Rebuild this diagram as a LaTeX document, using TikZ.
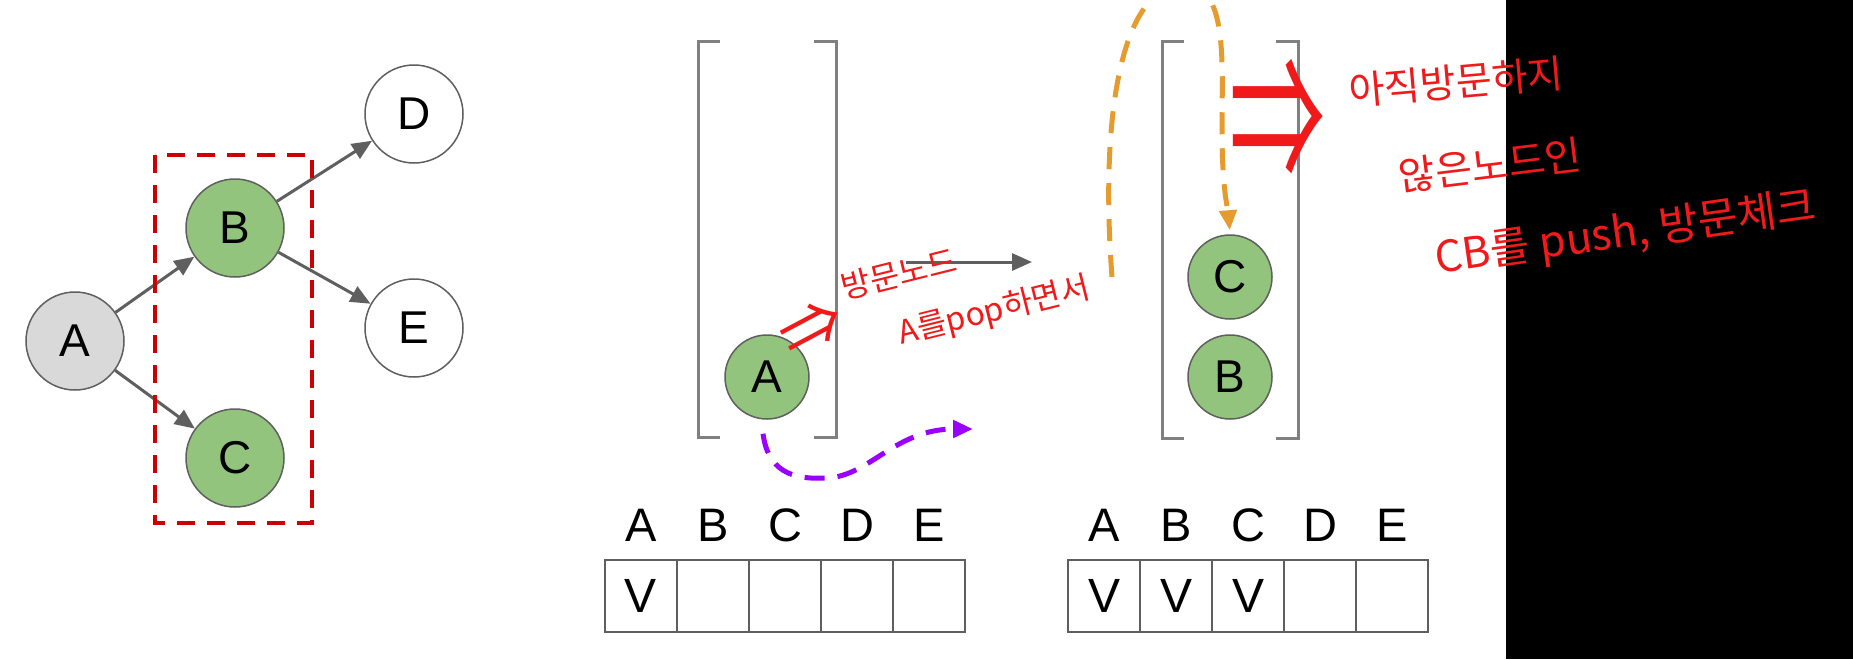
\documentclass[tikz,border=0pt]{standalone}
\usepackage{fontspec}
\setmainfont{Liberation Sans}
\newfontfamily\hand{Noto Sans CJK KR}
\usepackage{tikz}
\usetikzlibrary{arrows.meta}
\definecolor{nodegreen}{HTML}{93C47D}
\definecolor{nodegray}{HTML}{D9D9D9}
\definecolor{linegray}{HTML}{5F5F5F}
\definecolor{boxred}{HTML}{CC0000}
\definecolor{inkred}{HTML}{F01A1A}
\definecolor{popviolet}{HTML}{9900FF}
\definecolor{pushorange}{HTML}{E69B2E}

\begin{document}
\begin{tikzpicture}[x=1pt,y=-1pt,
  vertex/.style={circle,draw=linegray,line width=1.5pt,minimum size=98pt,inner sep=0pt,font=\fontsize{46}{46}\selectfont},
  item/.style={circle,draw=linegray,line width=1.5pt,fill=nodegreen,minimum size=84pt,inner sep=0pt,font=\fontsize{46}{46}\selectfont},
  edge/.style={-{Triangle[length=20pt,width=17pt]},linegray,line width=3pt},
  bracket/.style={gray,line width=3pt},
  cell/.style={draw=linegray,line width=2pt,minimum width=72pt,minimum height=72pt,inner sep=0pt,font=\fontsize{48}{48}\selectfont},
  head/.style={inner sep=0pt,font=\fontsize{47}{47}\selectfont},
  ink/.style={inkred,inner sep=0pt,font=\hand\fontsize{#1}{#1}\selectfont}]
  \clip (0,0) rectangle (1853,659);
  \fill[white] (0,0) rectangle (1853,659);
  \fill[black] (1506,0) rectangle (1853,659);
  % graph
  \node[vertex,fill=nodegray] (gA) at (75,341) {A};
  \node[vertex,fill=nodegreen] (gB) at (235,228) {B};
  \node[vertex,fill=nodegreen] (gC) at (235,458) {C};
  \node[vertex,fill=white] (gD) at (414,114) {D};
  \node[vertex,fill=white] (gE) at (414,328) {E};
  \draw[edge] (gA) -- (gB);
  \draw[edge] (gA) -- (gC);
  \draw[edge] (gB) -- (gD);
  \draw[edge] (gB) -- (gE);
  \draw[boxred,line width=4pt,dash pattern=on 18pt off 12pt] (155,155) rectangle (312,523);
  % stack before pop
  \draw[bracket] (720,41) -- (698,41) -- (698,437) -- (720,437);
  \draw[bracket] (814,41) -- (836,41) -- (836,437) -- (814,437);
  \node[item] (sA) at (767,377) {A};
  % stack after push
  \draw[bracket] (1184,41) -- (1162,41) -- (1162,438) -- (1184,438);
  \draw[bracket] (1276,41) -- (1298,41) -- (1298,438) -- (1276,438);
  \node[item] (sC) at (1230,277) {C};
  \node[item] (sB) at (1230,377) {B};
  % step arrow
  \coordinate (popS) at (906,262);
  \coordinate (popE) at (1032,262);
  \draw[edge] (popS) -- (popE);
  % pop A -> visited
  \coordinate (popTo) at (973,429);
  \draw[popviolet,line width=5pt,dash pattern=on 20pt off 13pt,-{Triangle[length=20pt,width=17pt]}]
    ([xshift=-4pt,yshift=-14pt]sA.south) .. controls (768,470) and (790,480) .. (827,478)
    .. controls (870,476) and (895,429) .. (popTo);
  % push C, B
  \coordinate (pushFrom) at (1112,277);
  \draw[pushorange,line width=5pt,dash pattern=on 22pt off 14pt,-{Triangle[length=20pt,width=17pt]},shorten >=4pt]
    (pushFrom) .. controls (1100,120) and (1120,-15) .. (1184,-15)
    .. controls (1228,-15) and (1222,60) .. (1222,130)
    .. controls (1222,190) and (1228,210) .. (sC.north);
  % visited tables
  \foreach \n/\m [count=\i from 0] in {A/V,B/,C/,D/,E/} {
    \node[head] (h1\n) at (641+72*\i,525) {\n};
    \node[cell] (v1\n) at (641+72*\i,596) {\m};
  }
  \foreach \n/\m [count=\i from 0] in {A/V,B/V,C/V,D/,E/} {
    \node[head] (h2\n) at (1104+72*\i,525) {\n};
    \node[cell] (v2\n) at (1104+72*\i,596) {\m};
  }
  % notes
  \node[ink=64,rotate=28] (n1) at (812,328) {⇒};
  \node[ink=32,rotate=14,align=left,font=\hand\fontsize{32}{57}\selectfont] (t1) at (966,289)
    {방문노드\\\hspace*{44pt}A를pop하면서};
  \node[ink=96] (n2) at (1277,120) {\scalebox{1}[1.8]{⇒}};
  \node[ink=39,rotate=5] (t2a) at (1456,82) {아직방문하지};
  \node[ink=40,rotate=7] (t2b) at (1490,165) {않은노드인};
  \node[ink=43,rotate=8] (t2c) at (1626,234) {CB를 push, 방문체크};
\end{tikzpicture}
\end{document}
